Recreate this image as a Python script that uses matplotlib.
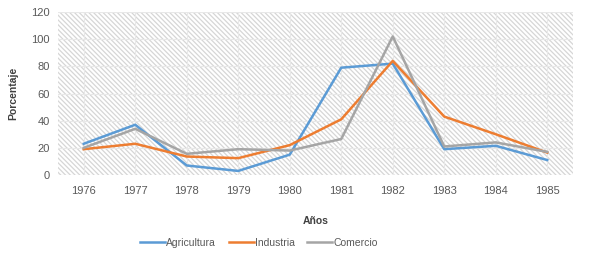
import numpy as np
import matplotlib.pyplot as plt
from matplotlib.patches import Rectangle

plt.rcParams['font.family'] = ['Liberation Sans', 'DejaVu Sans']
plt.rcParams['hatch.color'] = '#d6d6d6'
plt.rcParams['hatch.linewidth'] = 0.9

# data
years = ['1976', '1977', '1978', '1979', '1980', '1981', '1982', '1983', '1984', '1985']
agricultura = [23, 37, 7, 3, 15, 79, 82, 19, 21.5, 11]
industria = [19, 23, 13.6, 12.4, 22, 41, 84, 43, 30, 16.5]
comercio = [20, 34, 15.6, 19, 18, 26.5, 102, 21, 24, 17]

fig = plt.figure(figsize=(5.89, 2.6), dpi=100)
ax = fig.add_axes([58/589, 85/260, 515/589, 163/260])

x = np.arange(len(years))
ax.set_xlim(-0.5, len(years) - 0.5)
ax.set_ylim(0, 120)

# hatched plot background
ax.add_patch(Rectangle((0, 0), 1, 1, transform=ax.transAxes, facecolor='white',
                       edgecolor='#d6d6d6', hatch='\\' * 7, linewidth=0, zorder=0))
ax.set_yticks(np.arange(0, 121, 20))
ax.set_xticks(x)
ax.set_xticklabels(years)
ax.grid(True, color='#e8e8e8', linewidth=0.8, zorder=0.5)
ax.set_axisbelow(True)

ax.plot(x, agricultura, color='#5B9BD5', lw=1.8, label='Agricultura', zorder=3)
ax.plot(x, industria, color='#ED7D31', lw=1.8, label='Industria', zorder=3)
ax.plot(x, comercio, color='#A5A5A5', lw=1.8, label='Comercio', zorder=3)

for s in ax.spines.values():
    s.set_visible(False)
ax.tick_params(length=0, labelsize=8, colors='#595959', pad=8)
ax.tick_params(axis='y', pad=6)

ax.set_ylabel('Porcentaje', fontsize=7.5, fontweight='bold', color='#404040', labelpad=9)
ax.set_xlabel('Años', fontsize=7.5, fontweight='bold', color='#404040', labelpad=14)

fig.legend(loc='center', bbox_to_anchor=(259/589, 1 - 243/260), ncol=3, frameon=False,
           fontsize=7.5, labelcolor='#595959', handlelength=2.4, handletextpad=0.1,
           columnspacing=1.2)

fig.savefig('out.png', dpi=100)
